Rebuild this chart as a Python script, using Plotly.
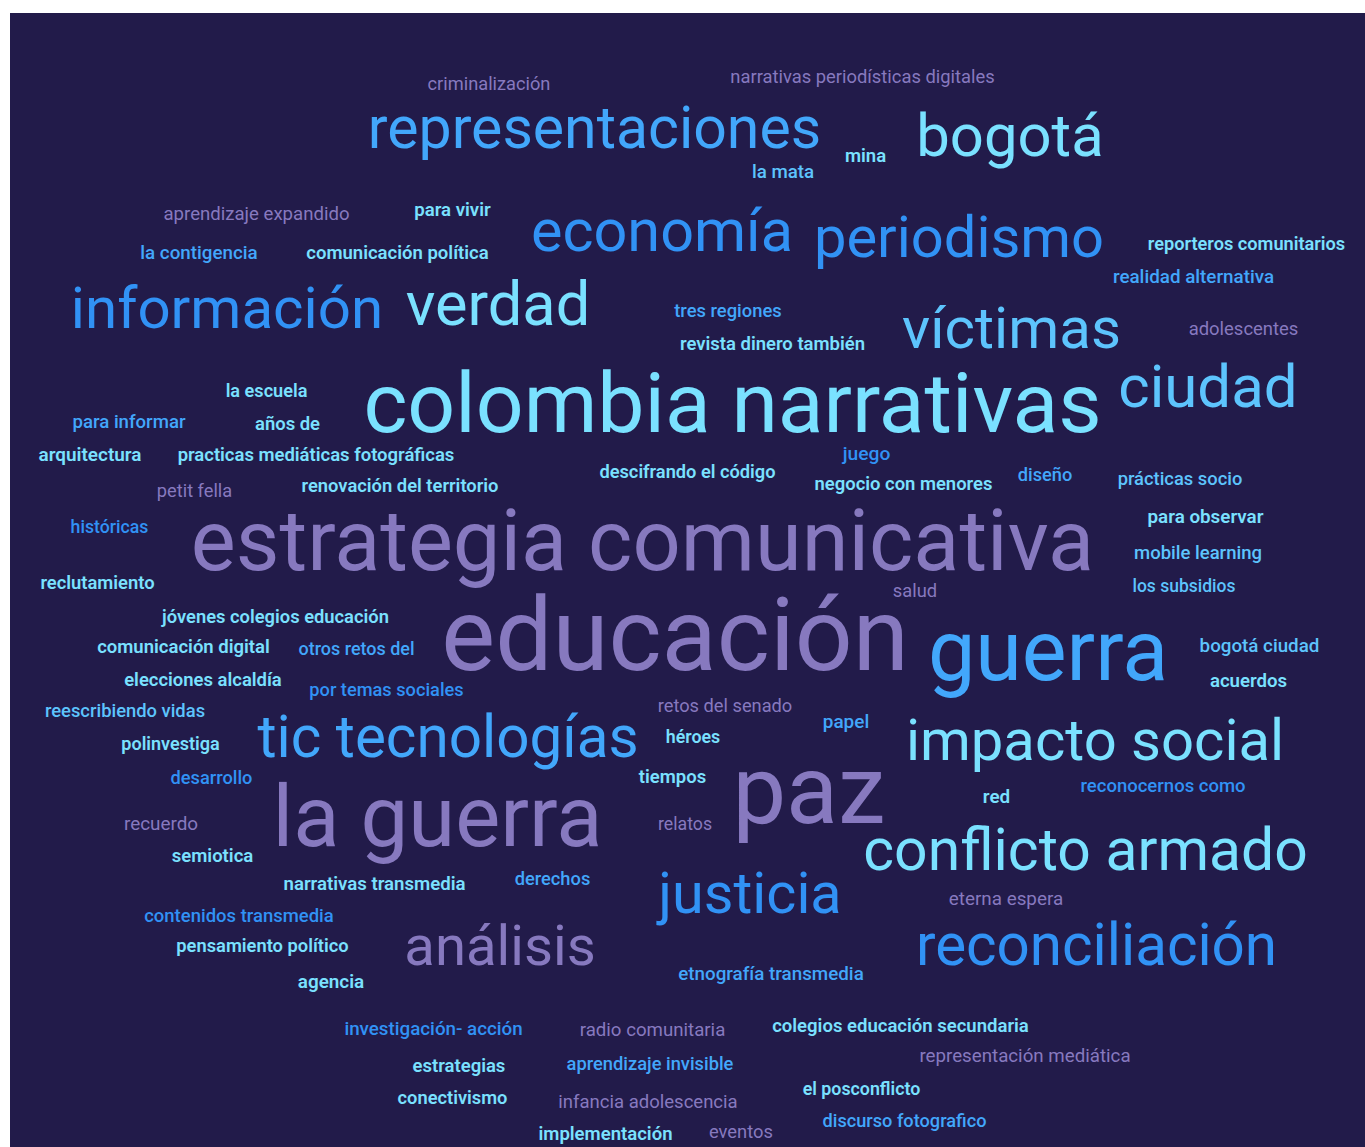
import unicodedata
import plotly.graph_objects as go

# ---------------- data: the words of the cloud ----------------
words = [
    "representaciones", "bogotá", "economía", "periodismo", "información", "verdad",
    "víctimas", "colombia narrativas", "ciudad", "estrategia comunicativa", "educación",
    "guerra", "tic tecnologías", "impacto social", "la guerra", "paz", "conflicto armado",
    "justicia", "análisis", "reconciliación",
    "criminalización", "narrativas periodísticas digitales", "mina", "la mata",
    "aprendizaje expandido", "para vivir", "la contigencia", "comunicación política",
    "reporteros comunitarios", "realidad alternativa", "tres regiones", "revista dinero también",
    "adolescentes", "la escuela", "para informar", "años de", "arquitectura",
    "practicas mediáticas fotográficas", "juego", "descifrando el código", "negocio con menores",
    "diseño", "prácticas socio", "petit fella", "renovación del territorio", "históricas",
    "para observar", "mobile learning", "reclutamiento", "los subsidios", "salud",
    "jóvenes colegios educación", "comunicación digital", "otros retos del", "bogotá ciudad",
    "elecciones alcaldía", "acuerdos", "por temas sociales", "reescribiendo vidas",
    "retos del senado", "papel", "polinvestiga", "héroes", "desarrollo", "tiempos", "red",
    "reconocernos como", "recuerdo", "relatos", "semiotica", "narrativas transmedia",
    "derechos", "eterna espera", "contenidos transmedia", "pensamiento político", "agencia",
    "etnografía transmedia", "investigación- acción", "radio comunitaria",
    "colegios educación secundaria", "representación mediática", "estrategias",
    "aprendizaje invisible", "el posconflicto", "conectivismo", "infancia adolescencia",
    "discurso fotografico", "implementación", "eventos",
]

# ---------------- layout of the cloud (screen pixels) ----------------
word_left = [
    369, 917, 532, 815, 72, 406, 903, 365, 1119, 193, 443, 928, 259, 907, 273, 733, 864, 659, 405, 917,
    428, 731, 845, 752, 164, 415, 141, 307, 1149, 1114, 675, 681, 1189, 226, 73, 255, 39, 178, 843,
    600, 815, 1018, 1118, 157, 303, 71, 1148, 1135, 41, 1133, 893, 163, 98, 299, 1200, 125, 1210,
    310, 46, 658, 823, 122, 666, 171, 639, 983, 1081, 124, 658, 172, 284, 515, 949, 145, 177, 298,
    679, 346, 580, 773, 920, 413, 568, 803, 398, 559, 823, 539, 709,
]
word_right = [
    820, 1103, 792, 1103, 382, 590, 1120, 1100, 1297, 1092, 907, 1168, 637, 1283, 602, 885, 1307, 841, 595, 1276,
    550, 994, 886, 814, 349, 490, 257, 488, 1344, 1273, 781, 864, 1298, 307, 185, 320, 141, 454, 890,
    775, 992, 1072, 1242, 232, 497, 148, 1263, 1261, 154, 1235, 937, 388, 269, 414, 1319, 281, 1287,
    463, 204, 792, 869, 219, 720, 252, 706, 1010, 1245, 198, 712, 253, 465, 590, 1063, 333, 348, 364,
    863, 521, 725, 1028, 1130, 505, 732, 920, 507, 737, 986, 672, 773,
]
word_baseline = [
    148, 156, 251, 257, 328, 325, 348, 432, 407, 570, 670, 680, 757, 760, 846, 823, 870, 913, 965, 965,
    90, 83, 162, 178, 220, 216, 259, 259, 250, 283, 317, 350, 335, 397, 428, 430, 461, 461, 460,
    478, 490, 481, 485, 497, 492, 533, 523, 559, 589, 592, 597, 623, 653, 655, 652, 686, 687,
    696, 717, 712, 728, 750, 743, 784, 783, 803, 792, 830, 830, 862, 890, 885, 905, 922, 952, 988,
    980, 1035, 1036, 1032, 1062, 1072, 1070, 1095, 1104, 1108, 1127, 1140, 1138,
]
word_tone = [
    "blue", "cyan", "deep", "deep", "deep", "cyan", "sky", "cyan", "sky", "lav", "lav", "blue", "blue",
    "cyan", "lav", "lav", "cyan", "deep", "lav", "deep",
    "lav", "lav", "cyan", "sky", "lav", "cyan", "blue", "cyan", "cyan", "blue", "blue", "cyan",
    "lav", "cyan", "blue", "cyan", "cyan", "cyan", "deep", "cyan", "cyan", "blue", "sky", "lav",
    "cyan", "deep", "cyan", "sky", "cyan", "sky", "lav", "cyan", "cyan", "blue", "sky", "cyan",
    "cyan", "deep", "sky", "lav", "blue", "cyan", "cyan", "deep", "cyan", "cyan", "deep", "lav",
    "lav", "cyan", "cyan", "blue", "lav", "deep", "cyan", "cyan", "blue", "deep", "lav", "cyan",
    "lav", "cyan", "blue", "cyan", "cyan", "lav", "blue", "cyan", "lav",
]

palette = {
    "cyan": "#7ae1ff",
    "sky": "#5dc4fd",
    "blue": "#42a7fb",
    "deep": "#3192f5",
    "lav": "#8779bf",
}
BG = "#221b4a"

# approximate Roboto advance widths (em units)
ADV = {
    " ": 0.248, "a": 0.544, "b": 0.561, "c": 0.523, "d": 0.564, "e": 0.530, "f": 0.347,
    "g": 0.561, "h": 0.551, "i": 0.243, "j": 0.239, "k": 0.507, "l": 0.243, "m": 0.876,
    "n": 0.552, "o": 0.570, "p": 0.561, "q": 0.568, "r": 0.338, "s": 0.516, "t": 0.327,
    "u": 0.551, "v": 0.484, "w": 0.751, "x": 0.496, "y": 0.473, "z": 0.496, "-": 0.276,
}


def em_width(text):
    base = unicodedata.normalize("NFD", text)
    return sum(ADV.get(ch, 0.0) for ch in base if not unicodedata.combining(ch))


def weight_of(i):
    if i < 20:
        return 400
    if word_tone[i] == "lav":
        return 400
    if word_tone[i] == "cyan":
        return 600
    return 500


wfactor = {400: 0.993, 500: 0.995, 600: 1.0}

groups = {}
for i, w in enumerate(words):
    wt = weight_of(i)
    width = word_right[i] - word_left[i]
    size = width / (em_width(w) * wfactor[wt])
    xc = (word_left[i] + word_right[i]) / 2
    yc = word_baseline[i] - 0.25 * size
    key = (word_tone[i], wt)
    g = groups.setdefault(key, {"x": [], "y": [], "t": [], "s": []})
    g["x"].append(xc)
    g["y"].append(yc)
    g["t"].append(w)
    g["s"].append(size)

fig = go.Figure()
for (tone, wt), g in groups.items():
    fig.add_trace(go.Scatter(
        x=g["x"], y=g["y"], text=g["t"], mode="text",
        textposition="middle center",
        textfont=dict(family="Roboto", size=g["s"], color=palette[tone], weight=wt),
        hoverinfo="skip", cliponaxis=False, showlegend=False,
    ))

fig.update_layout(
    width=1365, height=1147,
    margin=dict(l=10, t=13, r=0, b=0, pad=0),
    paper_bgcolor="white",
    plot_bgcolor=BG,
    xaxis=dict(range=[10, 1365], visible=False, fixedrange=True),
    yaxis=dict(range=[1147, 13], visible=False, fixedrange=True),
    showlegend=False,
)

fig.write_html(
    "out.html",
    config={"responsive": False, "displayModeBar": False},
    post_script=(
        "document.body.style.margin='0';"
        "document.body.style.overflow='hidden';"
        "document.documentElement.style.overflow='hidden';"
    ),
)
